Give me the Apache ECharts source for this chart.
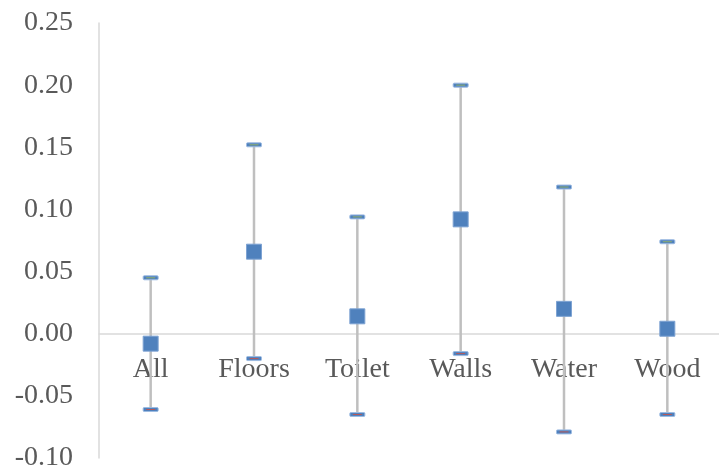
<!DOCTYPE html>
<html>
<head>
<meta charset="utf-8">
<script src="https://cdn.jsdelivr.net/npm/echarts@6/dist/echarts.min.js"></script>
<style>
  html, body { margin: 0; padding: 0; background: #fff; }
  #chart { width: 719px; height: 476px; }
</style>
</head>
<body>
<div id="chart"></div>
<script>
// Categories and estimates with their interval bounds
const categories = ['All', 'Floors', 'Toilet', 'Walls', 'Water', 'Wood'];
const meanValues = [-0.008, 0.066, 0.014, 0.092, 0.020, 0.004];
const upperValues = [0.045, 0.152, 0.094, 0.200, 0.118, 0.074];
const lowerValues = [-0.061, -0.020, -0.065, -0.016, -0.079, -0.065];
const yTicks = { min: -0.10, max: 0.25, step: 0.05 };

const gridTop = 23, gridHeight = 435;
// shift the category axis (line and labels) up to the zero value
const zeroOffset = -gridHeight * (0 - yTicks.min) / (yTicks.max - yTicks.min);

const chart = echarts.init(document.getElementById('chart'), null, { renderer: 'canvas' });

const rangeData = categories.map((c, i) => [i, lowerValues[i], upperValues[i]]);

function whisker(params, api) {
  const lo = api.coord([api.value(0), api.value(1)]);
  const hi = api.coord([api.value(0), api.value(2)]);
  return {
    type: 'line',
    shape: { x1: lo[0], y1: lo[1], x2: hi[0], y2: hi[1] },
    style: { stroke: '#bfbfbf', lineWidth: 2.5 }
  };
}

function caps(params, api) {
  const lo = api.coord([api.value(0), api.value(1)]);
  const hi = api.coord([api.value(0), api.value(2)]);
  const w = 15, h = 4;
  const cap = (p, inner) => [
    {
      type: 'rect',
      shape: { x: p[0] - w / 2, y: p[1] - h / 2, width: w, height: h, r: 1 },
      style: { fill: '#4f81bd', stroke: '#9dbbe2', lineWidth: 1 }
    },
    {
      type: 'line',
      shape: { x1: p[0] - w / 2 + 3, y1: p[1], x2: p[0] + w / 2 - 3, y2: p[1] },
      style: { stroke: inner, lineWidth: 1 }
    }
  ];
  return { type: 'group', children: cap(hi, '#8fae6a').concat(cap(lo, '#b5595a')) };
}

chart.setOption({
  animation: false,
  grid: { left: 99, top: gridTop, width: 624, height: gridHeight, containLabel: false },
  xAxis: {
    type: 'category',
    data: categories,
    boundaryGap: true,
    offset: zeroOffset,
    axisLine: { onZero: false, lineStyle: { color: '#d9d9d9', width: 1.5 } },
    axisTick: { show: false },
    axisLabel: {
      fontFamily: 'Liberation Serif',
      fontSize: 28,
      color: '#595959',
      margin: 22,
      interval: 0
    },
    splitLine: { show: false }
  },
  yAxis: {
    type: 'value',
    min: yTicks.min,
    max: yTicks.max,
    interval: yTicks.step,
    axisLine: { show: true, lineStyle: { color: '#d9d9d9', width: 1.5 } },
    axisTick: { show: false },
    splitLine: { show: false },
    axisLabel: {
      fontFamily: 'Liberation Serif',
      fontSize: 28,
      color: '#595959',
      margin: 26,
      formatter: v => v.toFixed(2)
    }
  },
  series: [
    {
      type: 'custom',
      renderItem: whisker,
      encode: { x: 0, y: [1, 2] },
      data: rangeData,
      z: 1
    },
    {
      type: 'custom',
      renderItem: caps,
      encode: { x: 0, y: [1, 2] },
      data: rangeData,
      z: 2
    },
    {
      type: 'scatter',
      data: meanValues,
      symbol: 'rect',
      symbolSize: 15,
      itemStyle: { color: '#4f81bd', borderColor: '#7ea3d3', borderWidth: 1, opacity: 1 },
      z: 3
    }
  ]
});
</script>
</body>
</html>
